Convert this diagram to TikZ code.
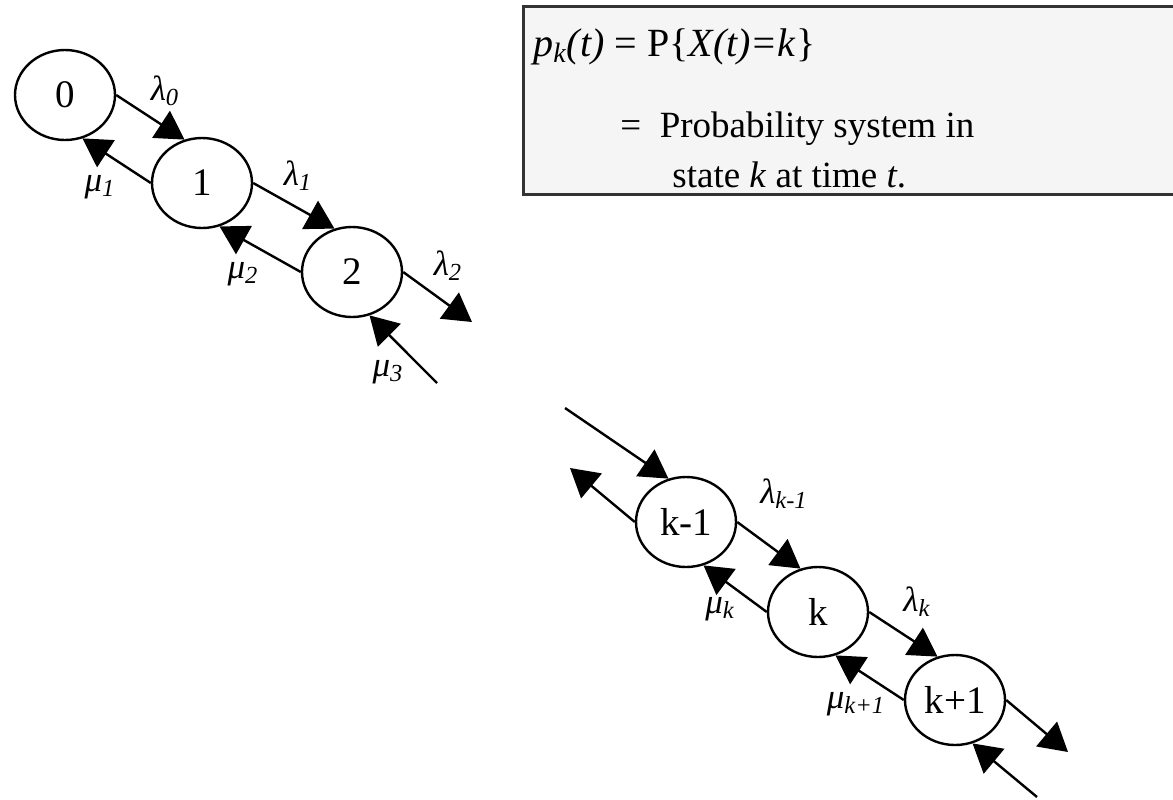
\documentclass[tikz,border=0pt]{standalone}
\usepackage{fontspec}
\setmainfont{Liberation Serif}
\usetikzlibrary{arrows.meta, positioning, calc, shapes.geometric}
\tikzset{
  state/.style = {ellipse, draw=black, line width=1.2pt, minimum width=50pt,
                  minimum height=45pt, inner sep=0pt,
                  font=\fontsize{19.5}{22}\selectfont},
  rate/.style  = {inner sep=0pt, font=\fontsize{17.5}{20}\selectfont\itshape},
  arr/.style   = {-{Triangle[length=14pt, width=16pt]}, line width=1.2pt},
  panel/.style = {rectangle, draw=black!80, fill=black!4, line width=1.5pt,
                  anchor=north west, minimum width=334pt,
                  minimum height=94pt},
  note/.style  = {anchor=base west, inner sep=0pt,
                  font=\fontsize{18.5}{22}\selectfont},
}

\begin{document}
\begin{tikzpicture}[x=0.5pt, y=-0.5pt]
  \useasboundingbox (0,0) rectangle (1173,799);
  \clip (0,0) rectangle (1173,799);

  \node[panel] (box) at (522,5) {};
  \node[note, font=\fontsize{20}{24}\selectfont] (eq1) at (533,56)
    {\textit{p\textsubscript{k}(t)} = P\{\textit{X(t)=k}\}};
  \node[note] (eq2) at (620,137) {=\ \ Probability system in};
  \node[note] (eq3) at (672,187) {state \textit{k} at time \textit{t}.};

  \node[state] (s0) at (65,95) {0};
  \node[state] (s1) at (202,183) {1};
  \node[state] (s2) at (352,272) {2};

  \node[state] (skm) at (686,522) {k-1};
  \node[state] (sk) at (818,612) {k};
  \node[state] (skp) at (955,700) {k+1};

  \draw[arr] (s0.east) -- (s1.112);
  \draw[arr] (s1.west) -- (s0.-68);
  \draw[arr] (s1.east) -- (s2.112);
  \draw[arr] (s2.west) -- (s1.-68);

  \coordinate (out2) at (472,322);
  \coordinate (in3) at (437,383);
  \draw[arr] (s2.east) -- (out2);
  \draw[arr] (in3) -- (s2.-68);

  \coordinate (inkm) at (565,408);
  \coordinate (outkm) at (570,468);
  \draw[arr] (inkm) -- (skm.112);
  \draw[arr] (skm.west) -- (outkm);

  \draw[arr] (skm.east) -- (sk.112);
  \draw[arr] (sk.west) -- (skm.-68);
  \draw[arr] (sk.east) -- (skp.112);
  \draw[arr] (skp.west) -- (sk.-68);

  \coordinate (outkp) at (1068,752);
  \coordinate (inkp) at (1037,797);
  \draw[arr] (skp.east) -- (outkp);
  \draw[arr] (inkp) -- (skp.-68);

  \node[rate] (l0) at ($(s0)+(100,-4)$) {λ\textsubscript{0}};
  \node[rate] (m1) at ($(s1)+(-102,4)$) {μ\textsubscript{1}};
  \node[rate] (l1) at ($(s1)+(96,-7)$) {λ\textsubscript{1}};
  \node[rate] (m2) at ($(s2)+(-109,2)$) {μ\textsubscript{2}};
  \node[rate] (l2) at ($(s2)+(96,-6)$) {λ\textsubscript{2}};
  \node[rate] (m3) at ($(s2)+(36,100)$) {μ\textsubscript{3}};

  \node[rate] (lkm) at ($(skm)+(98,-28)$) {λ\textsubscript{k-1}};
  \node[rate] (mk) at ($(sk)+(-98,-3)$) {μ\textsubscript{k}};
  \node[rate] (lk) at ($(sk)+(99,-10)$) {λ\textsubscript{k}};
  \node[rate] (mkp) at ($(skp)+(-99,4)$) {μ\textsubscript{k+1}};
\end{tikzpicture}
\end{document}
